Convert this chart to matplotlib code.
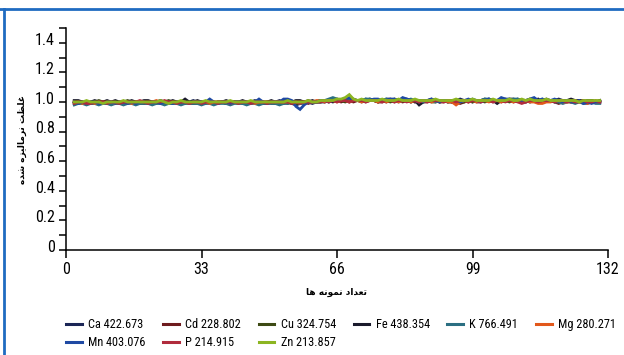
import numpy as np
import matplotlib
matplotlib.use("Agg")
import matplotlib.pyplot as plt
from matplotlib.lines import Line2D
from matplotlib.ticker import MultipleLocator
import matplotlib.transforms as mtransforms

plt.rcParams['font.family'] = ['Roboto Condensed', 'DejaVu Sans']

samples = list(range(2, 131))

names = ["Ca 422.673", "Cd 228.802", "Cu 324.754", "Fe 438.354", "K 766.491",
         "Mg 280.271", "Mn 403.076", "P 214.915", "Zn 213.857"]
colors = ["#1b2656", "#6e1b1e", "#3d4a14", "#1a1a2c", "#2b6f82",
          "#e2581b", "#1f49a3", "#b02b3c", "#8cb521"]

ca = [1.00, 0.99, 1.00, 1.00, 0.99, 0.99, 1.00, 1.00, 0.99, 1.00,
      1.00, 0.99, 0.99, 1.00, 1.00, 0.99, 1.00, 0.99, 1.00, 1.00,
      0.99, 1.00, 1.00, 0.99, 0.99, 1.00, 1.00, 0.99, 1.00, 1.01,
      1.00, 0.99, 1.00, 0.99, 0.99, 1.00, 1.00, 0.99, 0.99, 1.00,
      1.00, 0.99, 0.99, 1.00, 1.01, 1.00, 0.99, 0.99, 1.00, 1.00,
      1.01, 1.00, 1.00, 0.99, 0.98, 0.99, 1.00, 1.00, 0.99, 1.00,
      1.00, 1.00, 1.01, 1.01, 1.02, 1.01, 1.01, 1.02, 1.02, 1.01,
      1.01, 1.02, 1.01, 1.01, 1.00, 1.01, 1.02, 1.02, 1.01, 1.01,
      1.02, 1.02, 1.01, 1.00, 1.01, 1.01, 1.01, 1.02, 1.01, 1.00,
      1.01, 1.01, 1.00, 1.01, 1.02, 1.01, 1.01, 1.00, 1.01, 1.01,
      1.01, 1.02, 1.01, 1.01, 1.02, 1.02, 1.01, 1.01, 1.02, 1.01,
      1.01, 1.02, 1.01, 1.00, 1.01, 1.02, 1.01, 1.01, 1.02, 1.01,
      1.01, 1.00, 1.01, 1.01, 1.00, 1.01, 1.01, 1.00, 1.00]

cd = [0.99, 1.00, 1.00, 0.99, 1.00, 1.00, 0.99, 1.00, 1.00, 0.99,
      0.99, 1.00, 1.00, 0.99, 1.00, 1.00, 0.99, 0.99, 1.00, 0.99,
      1.00, 1.00, 0.99, 0.99, 1.00, 0.99, 1.00, 1.00, 0.99, 0.99,
      1.00, 1.00, 0.99, 1.00, 0.99, 0.99, 1.00, 0.99, 1.00, 1.00,
      0.99, 1.00, 0.99, 0.99, 1.00, 0.99, 0.99, 1.00, 0.99, 0.99,
      1.00, 0.99, 1.00, 0.99, 0.99, 1.00, 1.00, 0.99, 1.00, 1.00,
      1.01, 1.00, 1.01, 1.01, 1.01, 1.00, 1.01, 1.01, 1.00, 1.01,
      1.01, 1.00, 1.01, 1.01, 1.00, 1.00, 1.01, 1.01, 1.00, 1.01,
      1.00, 1.01, 1.01, 1.00, 1.01, 1.00, 1.00, 1.01, 1.01, 1.00,
      1.00, 1.01, 1.00, 1.00, 0.99, 1.00, 1.01, 1.01, 1.00, 1.00,
      1.01, 1.01, 1.00, 1.01, 1.00, 1.01, 1.01, 1.00, 1.01, 1.00,
      1.00, 1.01, 1.01, 1.00, 1.00, 1.01, 1.01, 1.00, 0.99, 1.00,
      1.01, 1.00, 1.00, 1.01, 1.00, 1.00, 1.01, 1.00, 1.00]

cu = [1.00, 1.00, 0.99, 1.00, 0.99, 1.00, 1.01, 1.00, 0.99, 1.00,
      0.99, 0.99, 1.00, 1.01, 1.00, 1.00, 0.99, 1.00, 0.99, 1.00,
      1.00, 0.99, 1.00, 1.01, 1.00, 0.99, 0.99, 1.00, 1.00, 0.99,
      0.99, 1.00, 1.00, 1.00, 0.99, 1.00, 1.00, 0.99, 1.00, 1.00,
      1.00, 1.00, 0.99, 1.00, 1.00, 0.99, 1.00, 1.00, 1.00, 0.99,
      1.00, 1.00, 0.99, 1.00, 0.99, 0.99, 1.00, 1.01, 1.00, 1.00,
      1.00, 1.01, 1.00, 1.01, 1.01, 1.01, 1.00, 1.01, 1.01, 1.01,
      1.00, 1.01, 1.01, 1.01, 1.00, 1.01, 1.01, 1.00, 1.01, 1.01,
      1.01, 1.01, 1.00, 1.01, 1.00, 1.01, 1.01, 1.00, 1.00, 1.01,
      1.01, 1.00, 1.01, 1.01, 1.00, 1.00, 1.01, 1.00, 1.01, 1.01,
      1.00, 1.01, 1.01, 1.00, 1.01, 1.01, 1.00, 1.01, 1.01, 1.00,
      1.01, 1.00, 1.01, 1.01, 1.00, 1.01, 1.01, 1.00, 1.01, 1.01,
      1.00, 1.01, 1.00, 1.01, 1.01, 1.00, 1.01, 1.00, 1.01]

fe = [1.01, 1.01, 1.00, 0.99, 1.00, 1.01, 1.00, 1.00, 1.01, 1.00,
      1.01, 1.00, 1.00, 1.00, 1.01, 1.00, 1.00, 1.01, 1.01, 1.00,
      1.00, 1.01, 1.00, 1.00, 1.01, 1.00, 1.00, 1.02, 1.00, 1.00,
      1.01, 1.00, 1.00, 1.01, 1.00, 1.00, 1.00, 1.01, 1.00, 1.00,
      1.00, 1.01, 1.00, 1.00, 1.00, 1.01, 1.00, 1.00, 1.01, 1.00,
      1.00, 1.01, 1.00, 1.00, 1.01, 1.01, 1.00, 1.00, 1.01, 1.00,
      1.01, 1.01, 1.01, 1.00, 1.01, 1.01, 1.01, 1.00, 1.01, 1.01,
      1.01, 1.01, 1.02, 1.01, 1.01, 1.01, 1.00, 1.01, 1.02, 1.01,
      1.01, 1.01, 1.00, 1.01, 0.98, 1.00, 1.01, 1.01, 1.01, 1.00,
      1.01, 1.00, 1.00, 1.01, 1.01, 1.01, 1.00, 1.01, 1.01, 1.01,
      1.02, 1.01, 1.01, 0.99, 1.01, 1.01, 1.02, 1.02, 1.01, 1.01,
      1.00, 1.01, 1.01, 1.02, 1.00, 1.01, 1.01, 1.01, 1.00, 1.01,
      1.01, 1.02, 1.01, 1.01, 1.00, 1.01, 1.01, 1.00, 1.01]

k = [0.98, 0.99, 0.99, 0.98, 0.99, 0.99, 0.98, 0.99, 0.99, 0.98,
     0.99, 0.99, 0.98, 0.99, 0.99, 0.98, 0.99, 0.99, 0.99, 0.98,
     0.99, 0.99, 0.98, 0.99, 0.99, 0.99, 0.98, 0.99, 0.99, 0.99,
     0.99, 0.98, 0.99, 0.99, 0.98, 0.99, 0.99, 0.99, 0.98, 0.99,
     0.99, 0.99, 0.98, 0.99, 0.99, 0.98, 0.99, 0.99, 0.99, 0.99,
     0.98, 0.99, 0.99, 1.00, 1.00, 0.99, 0.99, 1.00, 1.00, 1.00,
     1.00, 1.01, 1.02, 1.03, 1.02, 1.01, 1.01, 1.02, 1.01, 1.01,
     1.01, 1.02, 1.02, 1.01, 1.01, 1.01, 1.02, 1.01, 1.01, 1.00,
     1.01, 1.01, 1.02, 1.01, 1.01, 1.00, 1.01, 1.01, 1.00, 1.01,
     1.01, 1.00, 1.01, 1.01, 1.00, 1.01, 1.01, 1.02, 1.01, 1.01,
     1.02, 1.02, 1.01, 1.01, 1.02, 1.01, 1.01, 1.02, 1.02, 1.01,
     1.01, 1.00, 1.01, 1.01, 1.02, 1.01, 1.01, 1.00, 1.00, 0.99,
     1.00, 1.00, 0.99, 1.00, 0.99, 0.99, 1.00, 0.99, 0.99]

mg = [1.00, 1.00, 0.99, 1.00, 1.00, 0.99, 1.00, 1.00, 1.00, 1.00,
      0.99, 1.00, 1.00, 1.00, 0.99, 1.00, 1.00, 1.00, 1.00, 1.00,
      1.01, 1.00, 1.00, 1.00, 1.00, 1.00, 1.00, 1.00, 0.99, 1.00,
      1.00, 1.00, 1.00, 0.99, 1.00, 1.00, 1.00, 1.00, 0.99, 1.00,
      1.00, 1.00, 1.00, 1.00, 0.99, 1.00, 1.00, 1.00, 1.00, 1.00,
      1.00, 1.00, 1.00, 1.00, 1.00, 1.00, 1.00, 1.00, 1.00, 1.01,
      1.01, 1.00, 1.01, 1.01, 1.00, 1.01, 1.01, 1.00, 1.01, 1.01,
      1.00, 1.01, 1.01, 1.01, 1.00, 1.01, 1.00, 1.01, 1.01, 1.00,
      1.01, 1.01, 1.00, 1.01, 1.00, 1.01, 1.01, 1.00, 1.01, 1.00,
      1.01, 1.00, 1.00, 0.98, 1.00, 1.01, 1.00, 1.01, 1.00, 1.01,
      1.01, 1.00, 1.01, 1.01, 1.00, 1.01, 1.01, 1.00, 1.01, 1.00,
      1.01, 1.00, 1.00, 0.99, 0.99, 1.00, 1.00, 1.01, 1.01, 1.00,
      1.00, 1.00, 1.01, 1.00, 1.00, 0.99, 1.00, 1.00, 1.00]

mn = [1.00, 0.99, 1.00, 0.99, 1.00, 1.00, 0.99, 0.99, 1.00, 1.00,
      0.99, 1.00, 1.00, 0.99, 1.00, 0.99, 1.00, 1.00, 0.99, 1.00,
      1.00, 0.99, 1.00, 1.00, 0.99, 1.00, 1.00, 1.00, 0.99, 1.00,
      1.00, 1.00, 1.00, 1.02, 1.00, 0.99, 1.00, 1.00, 0.99, 1.00,
      1.00, 1.00, 1.00, 1.00, 1.00, 1.02, 1.00, 0.99, 1.00, 1.00,
      1.00, 1.02, 1.02, 1.01, 0.97, 0.95, 0.98, 1.00, 1.00, 1.00,
      1.01, 1.01, 1.00, 1.01, 1.01, 1.01, 1.02, 1.03, 1.01, 1.01,
      1.01, 1.01, 1.01, 1.02, 1.02, 1.01, 1.01, 1.02, 1.02, 1.01,
      1.03, 1.02, 1.01, 1.01, 1.00, 1.01, 1.01, 1.02, 1.01, 1.00,
      1.01, 1.01, 1.01, 1.01, 1.00, 1.01, 1.02, 1.01, 1.01, 1.00,
      1.01, 1.02, 1.01, 1.01, 1.03, 1.02, 1.02, 1.01, 1.01, 1.01,
      1.01, 1.02, 1.03, 1.01, 1.02, 1.01, 1.01, 1.02, 1.01, 1.00,
      1.01, 1.00, 1.00, 1.01, 0.99, 1.00, 0.99, 1.00, 1.00]

p = [0.99, 1.00, 1.00, 0.99, 0.99, 1.00, 1.00, 1.00, 0.99, 1.00,
     1.00, 0.99, 1.00, 1.00, 1.00, 1.00, 1.01, 1.00, 0.99, 1.00,
     1.00, 1.00, 1.01, 1.00, 1.00, 0.99, 1.00, 1.00, 0.99, 1.00,
     1.00, 0.99, 1.00, 1.00, 1.00, 0.99, 1.00, 1.00, 1.00, 1.00,
     0.99, 1.00, 1.00, 0.99, 1.00, 1.00, 1.00, 0.99, 1.00, 1.00,
     1.00, 1.00, 1.00, 0.99, 1.00, 0.99, 1.00, 1.00, 1.00, 1.00,
     1.00, 1.01, 1.00, 1.01, 1.00, 1.01, 1.01, 1.00, 1.01, 1.01,
     1.01, 1.00, 1.01, 1.01, 1.01, 1.00, 1.01, 1.01, 1.00, 1.01,
     1.01, 1.00, 1.01, 1.01, 1.00, 1.01, 1.00, 1.01, 1.01, 1.01,
     1.00, 1.01, 1.01, 1.00, 1.01, 1.01, 1.00, 1.01, 1.01, 1.00,
     1.01, 1.01, 1.00, 1.01, 1.01, 1.00, 1.01, 1.01, 1.00, 0.99,
     1.00, 1.01, 1.01, 1.00, 1.01, 1.01, 1.01, 1.00, 1.01, 1.01,
     1.00, 1.01, 1.00, 1.00, 1.01, 1.00, 1.00, 1.01, 1.00]

zn = [1.00, 1.00, 1.00, 1.01, 1.00, 1.00, 1.00, 0.99, 1.00, 1.00,
      1.00, 1.00, 1.01, 1.00, 1.00, 1.00, 1.00, 1.00, 1.00, 1.00,
      1.00, 1.01, 1.00, 0.99, 1.00, 1.00, 1.01, 1.00, 1.00, 1.00,
      1.00, 1.00, 1.01, 1.00, 1.00, 1.00, 1.00, 1.00, 1.01, 1.00,
      1.00, 1.00, 1.00, 1.01, 1.00, 1.00, 1.00, 1.00, 1.00, 1.00,
      1.00, 1.00, 1.01, 1.00, 1.00, 1.00, 1.00, 1.01, 1.00, 1.00,
      1.01, 1.01, 1.01, 1.01, 1.02, 1.02, 1.03, 1.05, 1.02, 1.01,
      1.02, 1.01, 1.01, 1.01, 1.01, 1.02, 1.01, 1.01, 1.01, 1.02,
      1.01, 1.01, 1.01, 1.02, 1.01, 1.01, 1.01, 1.01, 1.02, 1.01,
      1.01, 1.01, 1.01, 1.02, 1.01, 1.01, 1.01, 1.02, 1.01, 1.01,
      1.01, 1.01, 1.02, 1.01, 1.01, 1.01, 1.02, 1.01, 1.01, 1.02,
      1.01, 1.02, 1.01, 1.01, 1.01, 1.02, 1.01, 1.01, 1.01, 1.01,
      1.01, 1.01, 1.01, 1.00, 1.01, 1.01, 1.01, 1.01, 1.01]

series = [ca, cd, cu, fe, k, mg, mn, p, zn]

# persian labels, pre-shaped in visual order
xlabel_fa = "\uFE8E\uFEEB \uFEEA\uFEE7\uFEEE\uFEE4\uFEE7 \uFEA9\uFE8D\uFEAA\uFECC\uFE97"
ylabel_fa = ("\uFEE9\uFEAA\uFEB7 \uFEE9\uFEB0\uFEF4\uFEDF\uFE8E\uFEE3\uFEAE\uFEE7 "
             "\uFE96\uFEC8\uFEE0\uFECF")

fig = plt.figure(figsize=(6.24, 3.55), dpi=100)
ax = fig.add_axes([66 / 624, 1 - 250 / 355, 542 / 624, 222 / 355])

lines = []
for vals, name, col in zip(series, names, colors):
    ln, = ax.plot(samples, vals, color=col, lw=2.0, solid_joinstyle="miter", label=name)
    lines.append(ln)

ax.set_xlim(0, 132)
ax.set_ylim(0, 1.5)
ax.set_xticks([0, 33, 66, 99, 132])
ax.set_yticks([0, 0.2, 0.4, 0.6, 0.8, 1.0, 1.2, 1.4])
ax.set_yticklabels(["0", "0.2", "0.4", "0.6", "0.8", "1.0", "1.2", "1.4"])
ax.yaxis.set_minor_locator(MultipleLocator(0.1))

for s in ["top", "right"]:
    ax.spines[s].set_visible(False)
for s in ["left", "bottom"]:
    ax.spines[s].set_linewidth(1.1)

ax.tick_params(axis="both", which="both", direction="out", width=1.1, labelsize=11.5, colors="black")
ax.tick_params(axis="y", which="both", length=5, pad=3)
ax.tick_params(axis="x", which="major", length=6, pad=3)

offset = mtransforms.ScaledTranslation(0, 3 / 72, fig.dpi_scale_trans)
for lab in ax.get_yticklabels():
    lab.set_transform(lab.get_transform() + offset)

fig.text(337 / 624, 1 - 292 / 355, xlabel_fa, family="DejaVu Sans", fontweight="bold",
         fontsize=6.5, ha="center", va="center")
fig.text(22 / 624, 1 - 140 / 355, ylabel_fa, family="DejaVu Sans", fontweight="bold",
         fontsize=6.5, ha="center", va="center", rotation=90)

# legend filled so it reads row by row
order = [0, 6, 1, 7, 2, 8, 3, 4, 5]
fig.legend([lines[i] for i in order], [names[i] for i in order], ncol=6,
           loc="upper left", bbox_to_anchor=(66 / 624, 1 - 318 / 355), frameon=False,
           fontsize=8.8, handlelength=1.3, handletextpad=0.5, columnspacing=1.45,
           labelspacing=0.45, borderaxespad=0, borderpad=0)
for lh in fig.legends[0].get_lines():
    lh.set_linewidth(2.2)

# blue frame on top and left edges
fig.add_artist(Line2D([0, 1], [1 - 9 / 355, 1 - 9 / 355], transform=fig.transFigure,
                      color="#1f6bc1", lw=2))
fig.add_artist(Line2D([4 / 624, 4 / 624], [0, 1 - 9 / 355], transform=fig.transFigure,
                      color="#1f6bc1", lw=2))

fig.savefig("out.png", dpi=100)
